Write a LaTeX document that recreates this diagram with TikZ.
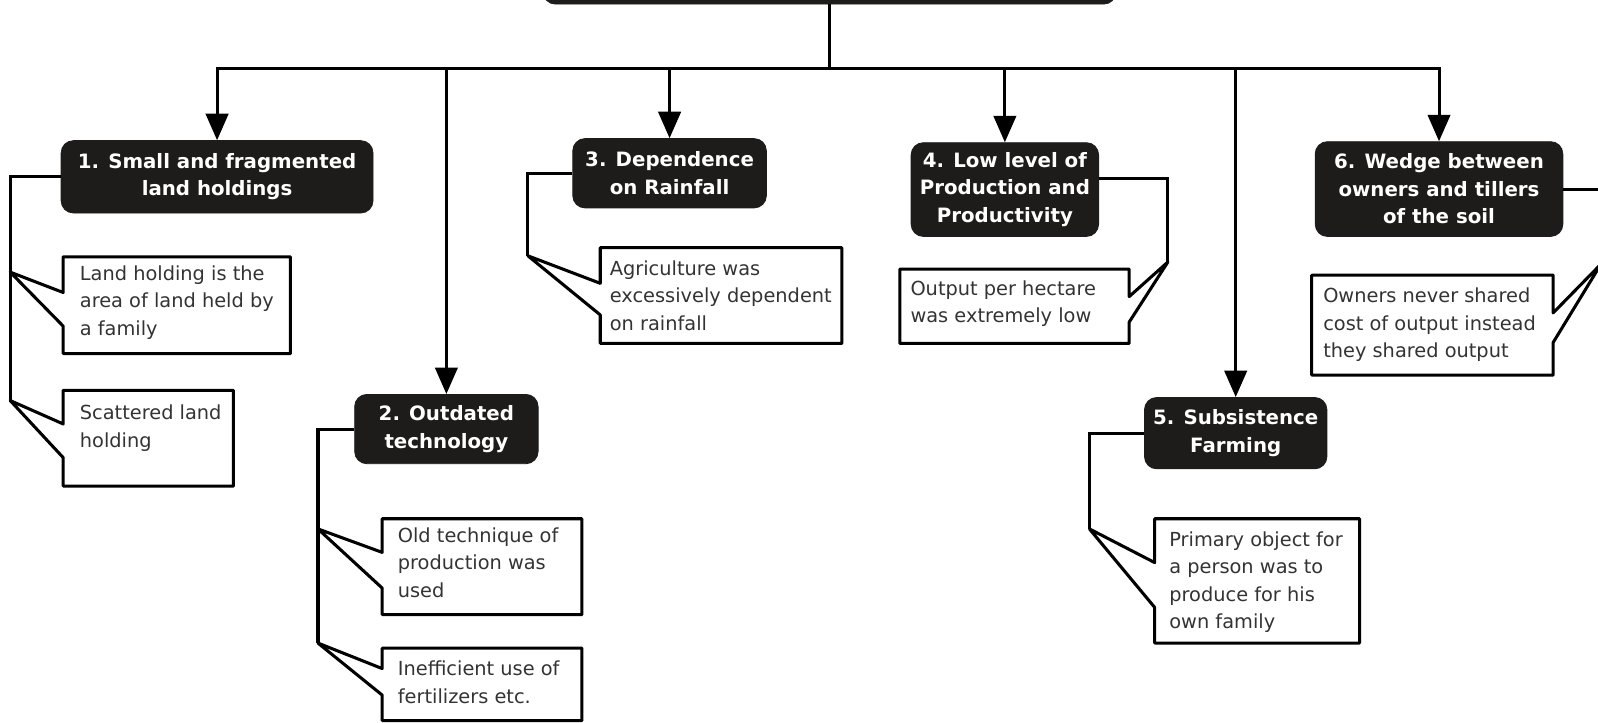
\documentclass[tikz,border=0pt]{standalone}
\usepackage{fontspec}
\setmainfont{DejaVu Sans}
\usetikzlibrary{arrows.meta}

\definecolor{boxblack}{HTML}{1E1C1A}
\definecolor{notegray}{HTML}{333333}

\tikzset{
  wire/.style={line width=1.5pt, draw=black},
  arr/.style={wire, -{Triangle[length=13pt,width=11pt]}},
  callout/.style={wire, line join=round},
  cause/.style={fill=boxblack, draw=boxblack, rounded corners=6pt, text=white,
    font=\fontsize{9.7}{13.5}\selectfont\bfseries, align=center, inner sep=0pt},
  remark/.style={text=notegray, font=\fontsize{9.5}{13.5}\selectfont,
    align=left, inner sep=0pt, anchor=north west},
}

\begin{document}
\begin{tikzpicture}[x=0.5pt,y=-0.5pt]
\useasboundingbox (0,0) rectangle (1568,709);
\clip (0,0) rectangle (1568,709);

% heads
        \node[cause, minimum width=281pt, minimum height=34pt] (root) at (814,-30) {};
        \node[cause, minimum width=153pt, minimum height=35.5pt] (n1) at (213,173.5) {1. Small and fragmented\\land holdings};
        \node[cause, minimum width=90pt, minimum height=34pt] (n2) at (438,421) {2. Outdated\\technology};
        \node[cause, minimum width=95pt, minimum height=34pt] (n3) at (657,170) {3. Dependence\\on Rainfall};
        \node[cause, minimum width=92pt, minimum height=46pt] (n4) at (986,186) {4. Low level of\\Production and\\Productivity};
        \node[cause, minimum width=89.5pt, minimum height=35pt] (n5) at (1212.5,425) {5. Subsistence\\Farming};
        \node[cause, minimum width=121.5pt, minimum height=46.5pt] (n6) at (1412,185.5) {6. Wedge between\\owners and tillers\\of the soil};

        \coordinate (bus) at (814,67);
        \draw[wire] (root) -- (bus);
        \foreach \n in {n1,n2,n3,n4,n5,n6}
            \draw[arr] (bus) -| (\n);

% callout tips
        \coordinate (t1a) at (10,267);
        \coordinate (t1b) at (10,393);
        \coordinate (t2a) at (312,519);
        \coordinate (t2b) at (312,631);
        \coordinate (t3a) at (518,251);
        \coordinate (t4a) at (1146,257);
        \coordinate (t5a) at (1069,519);
        \coordinate (t6a) at (1571,259);

        \draw[wire] (n1.west) -| (t1b);
        \draw[wire] (n2.west) -| (t2b);
        \draw[wire] (n3.west) -| (t3a);
        \draw[wire] ([yshift=5.5pt]n4.east) -| (t4a);
        \draw[wire] (n5.west) -| (t5a);
        \draw[wire] (n6.east) -| (t6a);

        \draw[callout] (t1a) -- (62,287) |- (285,252) |- (62,347) -- (62,320) -- cycle;
        \draw[callout] (t1b) -- (62,416) |- (229,383) |- (62,477) -- (62,449) -- cycle;
        \draw[callout] (t2a) -- (375,542) |- (571,509) |- (375,603) -- (375,577) -- cycle;
        \draw[callout] (t2b) -- (375,656) |- (571,636) |- (375,707) -- (375,682) -- cycle;
        \draw[callout] (t3a) -- (589,278) |- (826,243) |- (589,337) -- (589,309) -- cycle;
        \draw[callout] (t4a) -- (1108,291) |- (883,264) |- (1108,337) -- (1108,316) -- cycle;
        \draw[callout] (t5a) -- (1133,552) |- (1334,509) |- (1133,631) -- (1133,596) -- cycle;
        \draw[callout] (t6a) -- (1524,307) |- (1287,270) |- (1524,368) -- (1524,336) -- cycle;

        \node[remark] (c1a) at (78,260) {Land holding is the\\area of land held by\\a family};
        \node[remark] (c1b) at (78,397) {Scattered land\\holding};
        \node[remark] (c2a) at (390,517) {Old technique of\\production was\\used};
        \node[remark] (c2b) at (390,648) {Inefficient use of\\fertilizers etc.};
        \node[remark] (c3a) at (598,255) {Agriculture was\\excessively dependent\\on rainfall};
        \node[remark] (c4a) at (893,275) {Output per hectare\\was extremely low};
        \node[remark] (c5a) at (1147,521) {Primary object for\\a person was to\\produce for his\\own family};
        \node[remark] (c6a) at (1298,282) {Owners never shared\\cost of output instead\\they shared output};

\end{tikzpicture}
\end{document}
